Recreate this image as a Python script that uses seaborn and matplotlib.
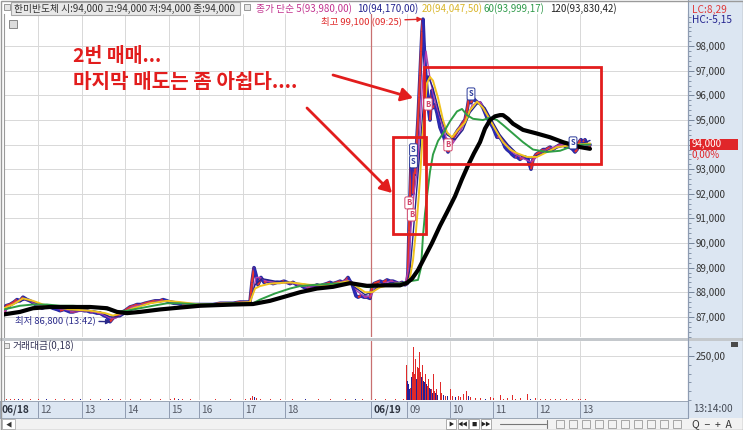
import numpy as np
import matplotlib
matplotlib.use("Agg")
import matplotlib.pyplot as plt
import seaborn as sns
from matplotlib.patches import Rectangle
from matplotlib.collections import LineCollection
from matplotlib.ticker import FuncFormatter, MultipleLocator

# ------------------------------------------------------------------ data
# x = time slot on the chart's compressed time axis (06/18 ~11:15 -> 06/19 13:14)
time_ticks = [4, 38, 82, 125, 169, 199, 243, 285, 371, 407, 450, 493, 537, 580]
time_labels = ["06/18", "12", "13", "14", "15", "16", "17", "18", "06/19", "09", "10", "11", "12", "13"]
price_ticks = [87000, 88000, 89000, 90000, 91000, 92000, 93000, 94000, 95000, 96000, 97000, 98000]

price_pts = [(4,87100),(6,87450),(10,87500),(14,87600),(17,87700),(20,87650),(23,87800),(27,87700),(30,87650),
    (34,87550),(37,87450),(40,87400),(42,87350),(45,87400),(47,87450),(50,87400),(53,87350),(57,87300),(60,87250),
    (64,87300),(67,87250),(70,87200),(73,87200),(77,87250),(80,87300),(84,87250),(87,87250),(90,87200),(93,87200),
    (97,87150),(100,87150),(104,87050),(107,87000),(110,86800),(113,86950),(117,87050),(120,87150),(125,87250),
    (130,87400),(134,87450),(137,87500),(141,87500),(145,87550),(150,87600),(155,87650),(160,87650),(163,87700),
    (167,87650),(170,87600),(174,87550),(177,87550),(182,87500),(187,87500),(193,87500),(200,87500),(207,87500),
    (213,87500),(220,87550),(227,87550),(233,87550),(240,87600),(246,87600),(250,87600),(252,88400),(254,89000),
    (256,88700),(258,88300),(261,88600),(264,88400),(267,88450),(270,88400),(273,88350),(277,88400),(280,88400),
    (284,88450),(287,88400),(290,88350),(293,88400),(297,88300),(300,88300),(304,88200),(307,88150),(310,88250),
    (313,88200),(317,88300),(320,88250),(323,88300),(327,88350),(330,88400),(333,88350),(337,88400),(340,88450),
    (343,88400),(346,88500),(348,88600),(350,88450),(352,88350),(354,88100),(356,87850),(358,87800),(361,87850),
    (364,87800),(367,87800),(370,87750),(372,88200),(374,88350),(377,88400),(380,88450),(383,88400),(387,88500),
    (390,88450),(393,88450),(396,88400),(399,88350),(402,88400),(405,88300),(407,88350),(408,88800),(409,90500),
    (410,91800),(411,93200),(412,92600),(413,92000),(414,93000),(415,92800),(416,93500),(417,94300),(418,95000),
    (419,95900),(420,96800),(421,97800),(422,98600),(423,99100),(424,98100),(425,97300),(426,96700),(427,96200),
    (428,95900),(429,95300),(430,95000),(431,95700),(432,96200),(433,95500),(435,95600),(437,95300),(440,94700),
    (442,94500),(444,94300),(446,94000),(448,93700),(450,94000),(452,94200),(455,94400),(458,94600),(460,94700),
    (463,94900),(465,95000),(467,95400),(469,95900),(471,95700),(473,95900),(475,95800),(478,95700),(480,95700),
    (483,95500),(485,95300),(487,95100),(490,94900),(493,94700),(495,94500),(497,94300),(500,94300),(503,94100),
    (505,93900),(507,93800),(510,93700),(512,93600),(515,93500),(517,93500),(520,93400),(523,93500),(525,93500),
    (528,93400),(531,93000),(533,93400),(536,93600),(540,93700),(543,93800),(546,93800),(550,93900),(553,93800),
    (556,93900),(560,94000),(563,94000),(566,93900),(570,93900),(573,93800),(575,93700),(577,93800),(579,94100),
    (581,94200),(583,94100),(585,94200),(587,94000),(589,93900),(590,94000)]

ma5_pts = [(4,87200),(12,87500),(20,87700),(28,87700),(36,87500),(45,87400),(55,87350),(65,87300),(75,87200),
    (85,87250),(95,87200),(103,87100),(110,86950),(116,86950),(123,87150),(132,87400),(142,87500),(155,87600),
    (165,87650),(175,87600),(190,87500),(210,87500),(235,87550),(250,87600),(253,88000),(256,88600),(260,88600),
    (266,88450),(280,88400),(295,88350),(307,88200),(320,88250),(335,88350),(347,88500),(352,88400),(357,88050),
    (365,87800),(371,87850),(376,88250),(390,88450),(405,88350),(409,89000),(411,90600),(414,92000),(417,92900),
    (420,94700),(423,96800),(426,97800),(430,96700),(434,95900),(440,95100),(446,94300),(452,94000),(460,94500),
    (467,95100),(472,95600),(480,95750),(487,95300),(495,94700),(503,94200),(512,93700),(522,93450),(531,93300),
    (540,93600),(550,93850),(562,94000),(572,93850),(580,94000),(590,93980)]

ma10_pts = [(4,87300),(15,87550),(25,87700),(35,87600),(45,87450),(60,87350),(75,87250),(90,87250),(100,87200),
    (110,87000),(120,87000),(130,87250),(140,87450),(155,87600),(170,87650),(185,87550),(200,87500),(230,87550),
    (250,87600),(255,88300),(262,88550),(275,88450),(300,88350),(315,88250),(335,88350),(348,88450),(355,88200),
    (365,87900),(372,88000),(380,88300),(395,88400),(407,88350),(410,88900),(413,90300),(416,91800),(420,93800),
    (424,95900),(428,96800),(433,96300),(440,95200),(447,94400),(455,94200),(463,94600),(470,95300),(478,95700),
    (485,95500),(493,94900),(500,94400),(508,94000),(518,93600),(530,93450),(540,93600),(550,93800),(565,93950),
    (575,93900),(583,94050),(590,94170)]

ma20_pts = [(4,87350),(13,87500),(23,87750),(33,87650),(43,87500),(55,87400),(70,87300),(90,87250),(105,87150),
    (113,87050),(125,87200),(133,87350),(150,87550),(167,87650),(180,87600),(200,87500),(230,87550),(250,87600),
    (255,88150),(260,88250),(270,88350),(290,88400),(310,88300),(330,88300),(348,88450),(356,88250),(365,88000),
    (372,88000),(380,88200),(395,88350),(407,88350),(410,88600),(413,89300),(416,90500),(418,91500),(420,92600),
    (423,94700),(427,96500),(430,96750),(433,96600),(438,95900),(443,95000),(447,94500),(452,94300),(458,94600),
    (465,94900),(470,95400),(477,95750),(483,95500),(490,95000),(497,94500),(503,94100),(510,93800),(517,93650),
    (527,93500),(537,93500),(547,93700),(557,93900),(567,93950),(577,94000),(590,94047)]

ma60_pts = [(4,87300),(20,87450),(33,87500),(47,87500),(60,87450),(73,87450),(93,87400),(107,87300),(117,87200),
    (127,87250),(140,87350),(153,87450),(167,87550),(180,87550),(200,87500),(233,87550),(253,87550),(260,87700),
    (275,87950),(290,88150),(300,88250),(315,88300),(333,88350),(350,88350),(360,88250),(370,88200),(385,88300),
    (400,88350),(410,88450),(418,88500),(421,89000),(423,90300),(425,91200),(427,91900),(430,92900),(433,93600),
    (438,94150),(443,94450),(450,94950),(457,95350),(462,95450),(467,95200),(473,95050),(483,95000),(490,95100),
    (497,95000),(503,94800),(513,94450),(523,94100),(533,93800),(547,93700),(560,93750),(570,93900),(580,94000),
    (590,93999)]

ma120_pts = [(4,87100),(20,87200),(33,87350),(50,87400),(67,87400),(90,87400),(107,87350),(117,87200),(127,87150),
    (140,87200),(160,87300),(173,87350),(200,87450),(233,87500),(253,87520),(270,87650),(283,87800),(300,88000),
    (317,88150),(333,88220),(350,88370),(367,88260),(385,88280),(400,88280),(407,88380),(412,88550),(418,88900),
    (425,89450),(432,90000),(440,90700),(447,91250),(455,91900),(462,92600),(468,93150),(474,93650),(480,94100),
    (485,94650),(490,95000),(495,95150),(500,95200),(503,95200),(508,95050),(513,94850),(523,94600),(537,94450),
    (550,94300),(563,94100),(573,93980),(580,93900),(590,93830)]

# trading-value bars: (slot, value, 1 = up/red, 0 = down/blue)
vol_pts = [(6,8,1),(10,5,1),(14,6,1),(18,4,0),(22,5,1),(30,3,1),(38,4,1),(46,3,0),(55,3,1),(64,4,1),(72,3,1),
    (80,3,0),(90,4,1),(100,3,1),(108,6,0),(112,4,1),(120,3,1),(130,4,1),(140,3,1),(150,3,1),(160,4,1),(170,8,1),
    (174,9,1),(178,8,0),(182,7,1),(190,3,1),(200,2,1),(215,3,1),(230,3,1),(245,3,1),(250,12,1),(252,25,1),
    (254,15,0),(256,10,1),(260,6,1),(270,4,1),(280,3,1),(292,3,1),(305,3,0),(318,3,1),(330,3,1),(345,4,1),
    (355,5,0),(362,3,1),(375,3,1),(385,3,1),(395,3,1),(403,4,1),
    (406,200,1),(407,110,0),(408,90,0),(409,60,0),(410,70,1),(411,130,0),(412,160,1),(413,300,1),(414,150,1),
    (415,230,1),(416,120,0),(417,190,1),(418,180,1),(419,270,1),(420,160,1),(421,130,0),(422,200,1),(423,110,0),
    (424,100,0),(425,150,1),(426,90,0),(427,80,1),(428,120,1),(429,70,0),(430,60,0),(431,60,1),(432,40,0),
    (433,150,1),(434,50,1),(435,40,0),(436,60,1),(437,30,0),(440,100,1),(441,40,1),(443,30,0),(445,25,1),
    (447,20,0),(450,60,1),(452,20,1),(455,15,0),(458,25,1),(460,15,1),(463,35,1),(466,50,1),(468,25,0),
    (470,15,1),(475,12,1),(480,10,1),(485,8,0),(490,15,1),(493,10,1),(500,30,1),(503,8,1),(507,10,1),
    (512,30,1),(515,8,1),(520,10,1),(527,35,1),(530,8,0),(535,10,1),(540,6,1),(545,8,1),(550,6,1),(555,5,1),
    (560,6,1),(566,4,1),(572,5,1),(578,6,1),(580,8,1),(585,5,1)]

# buy / sell signal marks
trade_x = [409, 411.5, 428, 448, 413.5, 413.5, 471, 573]
trade_p = [91630, 91140, 95650, 93990, 93790, 93300, 96060, 94070]
trade_side = ["B", "B", "B", "B", "S", "S", "S", "S"]

header_stock = "한미반도체 시:94,000 고:94,000 저:94,000 종:94,000"
header_ma = [("종가 단순 5(93,980,00)", "#c2338f", 256), ("10(94,170,00)", "#23238f", 357),
             ("20(94,047,50)", "#d9b62a", 422), ("60(93,999,17)", "#2f9a4a", 483),
             ("120(93,830,42)", "#222222", 550)]
note_lines = ["2번 매매...", "마지막 매도는 좀 아쉽다...."]

# ------------------------------------------------------------------ style
sns.set_style("white")
plt.rcParams['font.family'] = ['Noto Sans CJK KR', 'DejaVu Sans']
plt.rcParams['axes.unicode_minus'] = False

W, H = 743, 430
fig = plt.figure(figsize=(W / 100, H / 100), dpi=100)
fig.patch.set_facecolor("white")

AXBG = "#dce6f2"
GRID = "#d8d8d8"
RED = "#e21d1d"


def rect(x0, y0, x1, y1):
    return [x0 / W, 1 - y1 / H, (x1 - x0) / W, (y1 - y0) / H]


def fbox(x0, y0, x1, y1, z=-5, **kw):
    r = Rectangle((x0 / W, 1 - y1 / H), (x1 - x0) / W, (y1 - y0) / H,
                  transform=fig.transFigure, zorder=z, **kw)
    fig.add_artist(r)
    return r


def ftext(x, y, s, **kw):
    return fig.text(x / W, 1 - y / H, s, **kw)


def split(pts):
    a = np.array(pts, dtype=float)
    return a[:, 0], a[:, 1]


# backgrounds
fbox(688, 0, 743, 418, fc=AXBG, ec="none")
fbox(0, 401, 688, 418, fc=AXBG, ec="none")
fbox(0, 418, 743, 430, fc="#f2f2f2", ec="none")
fbox(0, 337.5, 743, 340.5, fc="#c4c8cc", ec="none", z=5)

# ------------------------------------------------------------------ price panel
ax = fig.add_axes(rect(4, 14, 688, 337))
ax.set_facecolor("white")
ax.set_xlim(4, 688)
ax.set_ylim(86180, 99310)

px, py = split(price_pts)
sns.lineplot(x=px, y=py, ax=ax, color="#2b2b9e", linewidth=2.6, estimator=None, sort=False, zorder=3)
segs = np.stack([np.column_stack([px[:-1], py[:-1]]), np.column_stack([px[1:], py[1:]])], axis=1)
seg_cols = ["#e8342c" if b > a else ("#2a2ab8" if b < a else "#a03080") for a, b in zip(py[:-1], py[1:])]
ax.add_collection(LineCollection(segs, colors=seg_cols, linewidths=1.6, zorder=3.2))

for pts, col, lw, z in [(ma5_pts, "#b23cae", 1.0, 4), (ma10_pts, "#24248c", 1.0, 4.1),
                        (ma20_pts, "#f0c21e", 1.4, 4.2), (ma60_pts, "#2f9e45", 1.4, 4.3),
                        (ma120_pts, "#000000", 3.0, 4.4)]:
    mx, my = split(pts)
    sns.lineplot(x=mx, y=my, ax=ax, color=col, linewidth=lw, estimator=None, sort=False, zorder=z)

ax.set_yticks(price_ticks)
ax.yaxis.tick_right()
ax.yaxis.set_major_formatter(FuncFormatter(lambda v, p: "" if int(round(v)) == 94000 else f"{int(round(v)):,}"))
ax.yaxis.set_minor_locator(MultipleLocator(200))
ax.tick_params(axis="y", which="major", right=True, left=False, labelright=True, length=4, width=0.6,
               color="#66768e", labelsize=7, labelcolor="#333333", pad=1.5)
ax.tick_params(axis="y", which="minor", right=True, left=False, length=2, width=0.5, color="#66768e")
grid_x = [t for t in time_ticks if t not in (4, 371)]
ax.set_xticks(grid_x)
ax.tick_params(axis="x", length=0, labelbottom=False)
ax.grid(True, color=GRID, lw=0.7)
ax.set_axisbelow(True)
ax.axvline(371, color="#c87070", lw=0.9, zorder=2)
for s in ["top", "bottom"]:
    ax.spines[s].set_visible(False)
ax.spines["left"].set_color("#9a9a9a")
ax.spines["right"].set_color("#7f8ea6")
ax.set_xlabel("")
ax.set_ylabel("")

# annotation boxes and signal marks
ax.add_patch(Rectangle((393, 90370), 33, 94313 - 90370, fill=False, ec=RED, lw=2.0, zorder=6))
ax.add_patch(Rectangle((424, 93215), 177, 97159 - 93215, fill=False, ec=RED, lw=2.0, zorder=6))
for tx, tp, sd in zip(trade_x, trade_p, trade_side):
    col = "#d2456a" if sd == "B" else "#2a3a9a"
    ax.text(tx, tp, sd, fontsize=5.5, color=col, ha="center", va="center", fontweight="bold", zorder=7,
            bbox=dict(boxstyle="round,pad=0.2", fc="white", ec=col, lw=0.7))

ax.annotate("최고 99,100 (09:25)", xy=(422.5, 99100), xytext=(-15, -1.5), textcoords="offset points",
            ha="right", va="center", fontsize=6.8, color="#e02828", zorder=8,
            arrowprops=dict(arrowstyle="-|>", color="#e02828", lw=1.0, shrinkA=0, shrinkB=0, mutation_scale=7))
ax.annotate("최저 86,800 (13:42)", xy=(111, 86800), xytext=(-11, 1), textcoords="offset points",
            ha="right", va="center", fontsize=6.8, color="#2a2a8a", zorder=8,
            arrowprops=dict(arrowstyle="-|>", color="#2a2a8a", lw=1.0, shrinkA=0, shrinkB=0, mutation_scale=7))

# ------------------------------------------------------------------ volume panel
axv = fig.add_axes(rect(4, 341, 688, 400))
axv.set_facecolor("white")
axv.set_xlim(4, 688)
axv.set_ylim(0, 335)
vx = [v[0] for v in vol_pts]
vv = [v[1] for v in vol_pts]
vc = ["#e02a2a" if v[2] else "#22229a" for v in vol_pts]
axv.bar(vx, vv, width=1.0, color=vc, linewidth=0, zorder=3)
axv.set_yticks([250])
axv.yaxis.tick_right()
axv.yaxis.set_major_formatter(FuncFormatter(lambda v, p: f"{v:.2f}".replace(".", ",")))
axv.yaxis.set_minor_locator(MultipleLocator(50))
axv.tick_params(axis="y", which="major", right=True, left=False, labelright=True, length=4, width=0.6,
                color="#66768e", labelsize=7, labelcolor="#333333", pad=1.5)
axv.tick_params(axis="y", which="minor", right=True, left=False, length=2, width=0.5, color="#66768e")
axv.set_xticks(grid_x)
axv.tick_params(axis="x", length=0, labelbottom=False)
axv.grid(True, color=GRID, lw=0.7)
axv.set_axisbelow(True)
axv.axvline(371, color="#c87070", lw=0.9, zorder=2)
for s in ["top", "bottom"]:
    axv.spines[s].set_visible(False)
axv.spines["left"].set_color("#9a9a9a")
axv.spines["right"].set_color("#7f8ea6")

# ------------------------------------------------------------------ time strip
axt = fig.add_axes(rect(0, 401, 688, 418))
axt.set_facecolor(AXBG)
axt.set_xlim(0, 688)
axt.set_ylim(0, 1)
axt.set_xticks([])
axt.set_yticks([])
for s in axt.spines.values():
    s.set_color("#9aa6b6")
    s.set_linewidth(0.7)
for t, lab in zip(time_ticks, time_labels):
    if t != 4:
        axt.axvline(t, color="#8f9bb0", lw=0.7)
    bold = "/" in lab
    axt.text(2 if t == 4 else t + 2, 0.47, lab, va="center", ha="left", fontsize=7.3,
             fontweight="bold" if bold else "normal", color="#2e3440" if bold else "#555a66")
ftext(693, 409.5, "13:14:00", fontsize=7.3, color="#444a55", va="center", ha="left")

# ------------------------------------------------------------------ header
fbox(3.5, 4, 9.5, 10, z=6, fc="#e6e6e6", ec="#8a8a8a", lw=0.6)
fbox(11, 1.5, 240, 14.5, z=5, fc="#e8e8e8", ec="#a9a9a9", lw=0.8)
ftext(14, 8.5, header_stock, fontsize=7, color="#333333", va="center", ha="left", zorder=7)
fbox(243.5, 4, 249.5, 10, z=6, fc="#e6e6e6", ec="#8a8a8a", lw=0.6)
for txt, col, xs in header_ma:
    ftext(xs, 8.5, txt, fontsize=7, color=col, va="center", ha="left", zorder=7)
ftext(692, 9.5, "LC:8,29", fontsize=7.3, color="#e03a3a", va="center", ha="left")
ftext(692, 20, "HC:-5,15", fontsize=7.3, color="#23238f", va="center", ha="left")
# small grid icon in price panel
fbox(9, 20, 17, 28, z=6, fc="#dcdcdc", ec="#777777", lw=0.6)

# current price tag
fbox(690, 139, 738, 149.5, z=6, fc="#e0262a", ec="none")
ftext(692, 144.3, "94,000", fontsize=7, color="white", va="center", ha="left", zorder=7)
ftext(692, 154.5, "0,00%", fontsize=7, color="#e0262a", va="center", ha="left", zorder=7)

# volume label
fbox(4, 342.5, 9, 347.5, z=6, fc="#e6e6e6", ec="#8a8a8a", lw=0.6)
ftext(13, 345.5, "거래대금(0,18)", fontsize=7, color="#333355", va="center", ha="left", zorder=7)
fbox(731, 341.5, 738, 346.5, z=6, fc="#4a4a4a", ec="none")

# big red note and arrows
ftext(73, 57, note_lines[0], fontsize=14, fontweight="bold", color=RED, va="center", ha="left", zorder=8)
ftext(73, 81, note_lines[1], fontsize=14.5, fontweight="bold", color=RED, va="center", ha="left", zorder=8)
for (x0, y0), (x1, y1) in [((333, 75), (413, 98)), ((307, 108), (392, 193))]:
    fig.add_artist(matplotlib.patches.FancyArrowPatch(
        (x0 / W, 1 - y0 / H), (x1 / W, 1 - y1 / H), transform=fig.transFigure,
        arrowstyle="-|>,head_length=7,head_width=4", color=RED, lw=2.0, zorder=9,
        shrinkA=0, shrinkB=0))

# ------------------------------------------------------------------ toolbar
fbox(2, 419, 15, 429, z=6, fc="white", ec="#b0b0b0", lw=0.6)
ftext(8.5, 424, "◀", fontsize=4.5, color="#333333", va="center", ha="center", zorder=7)
for i, g in enumerate(["▶", "◀◀", "■", "▶▶"]):
    x0 = 446 + i * 11.5
    fbox(x0, 419, x0 + 10, 429, z=6, fc="white", ec="#a0a0a0", lw=0.6)
    ftext(x0 + 5, 424, g, fontsize=3.8, color="#222222", va="center", ha="center", zorder=7)
fig.add_artist(matplotlib.lines.Line2D([500 / W, 546 / W], [1 - 424 / H, 1 - 424 / H],
                                       transform=fig.transFigure, color="#777777", lw=0.8, zorder=7))
fig.add_artist(matplotlib.lines.Line2D([547 / W, 547 / W], [1 - 420 / H, 1 - 428 / H],
                                       transform=fig.transFigure, color="#777777", lw=0.8, zorder=7))
for i in range(10):
    x0 = 556 + i * 13
    fbox(x0, 420, x0 + 8, 428, z=6, fc="none", ec="#9a9a9a", lw=0.6)
ftext(692, 424.5, "Q  −  +  A", fontsize=7.5, color="#333333", va="center", ha="left", zorder=7)

# outer frame
fbox(0.5, 0.5, 742.5, 429.5, z=10, fill=False, ec="#9a9a9a", lw=1.0)
fig.add_artist(matplotlib.lines.Line2D([688 / W, 688 / W], [1 - 0 / H, 1 - 418 / H],
                                       transform=fig.transFigure, color="#8e9cb2", lw=0.8, zorder=6))

fig.savefig("out.png", dpi=100, facecolor=fig.get_facecolor())
